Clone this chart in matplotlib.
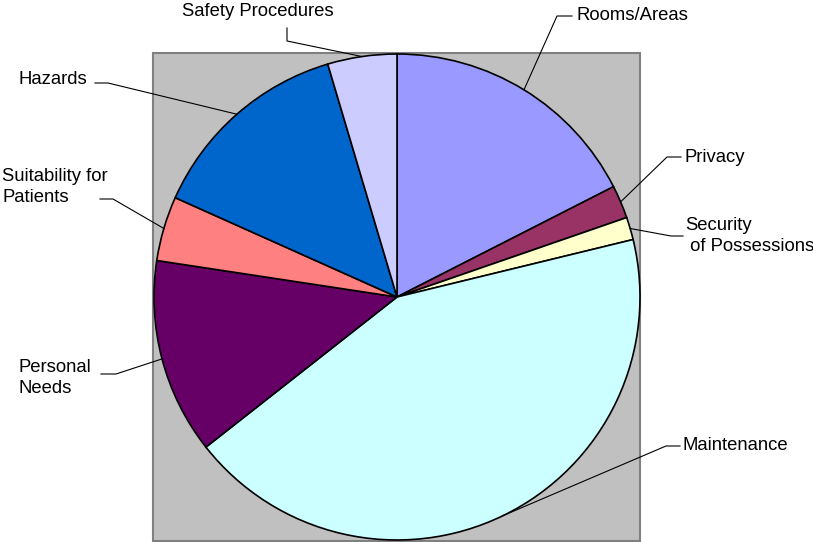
import matplotlib.pyplot as plt
import numpy as np

plt.rcParams['font.family'] = ['Liberation Sans', 'DejaVu Sans']

# Share of comments per topic (percent), clockwise from 12 o'clock
labels = ['Rooms/Areas', 'Privacy', 'Security\n of Possessions', 'Maintenance',
          'Personal\nNeeds', 'Suitability for\nPatients', 'Hazards', 'Safety Procedures']
values = [17.5, 2.2, 1.5, 43.2, 13.0, 4.3, 13.7, 4.6]
colors = ['#9999FF', '#993366', '#FFFFCC', '#CCFFFF', '#660066', '#FF8080', '#0066CC', '#CCCCFF']

W, H = 813, 542
fig = plt.figure(figsize=(W / 100, H / 100), dpi=100)
ax = fig.add_axes([0, 0, 1, 1])

cx, cy, r = 397, H - 297, 243
ax.add_patch(plt.Rectangle((153, H - 541), 487, 488, facecolor='#C0C0C0',
                           edgecolor='#808080', lw=1.5, zorder=0))
wedges, _ = ax.pie(values, colors=colors, startangle=90, counterclock=False,
                   center=(cx, cy), radius=r, frame=True,
                   wedgeprops=dict(edgecolor='black', linewidth=1.2))
ax.set_xlim(0, W)
ax.set_ylim(0, H)
ax.axis('off')

# leader elbows / ends and text anchors, in pixel coords from the top
layout = [
    ((557, 16), (572, 16), (576, 16), 'left', 'center'),
    ((667, 157), (681, 157), (684, 157), 'left', 'center'),
    ((671, 236), (683, 236), (685, 236), 'left', 'center'),
    ((666, 446), (680, 446), (683, 446), 'left', 'center'),
    ((116, 374), (101, 374), (18, 378), 'left', 'center'),
    ((113, 199), (100, 199), (2, 187), 'left', 'center'),
    ((108, 83), (95, 83), (18, 79), 'left', 'center'),
    ((287, 41), (287, 28), (258, 12), 'center', 'center'),
]

for w, lab, (elb, end, txt, ha, va) in zip(wedges, labels, layout):
    a = np.deg2rad((w.theta1 + w.theta2) / 2)
    sx, sy = cx + r * np.cos(a), cy + r * np.sin(a)
    ax.plot([sx, elb[0], end[0]], [sy, H - elb[1], H - end[1]],
            color='black', lw=0.8, zorder=5)
    ax.text(txt[0], H - txt[1], lab, ha=ha, va=va, fontsize=13.3,
            multialignment='left', linespacing=1.35)

fig.savefig('out.png', dpi=100)
